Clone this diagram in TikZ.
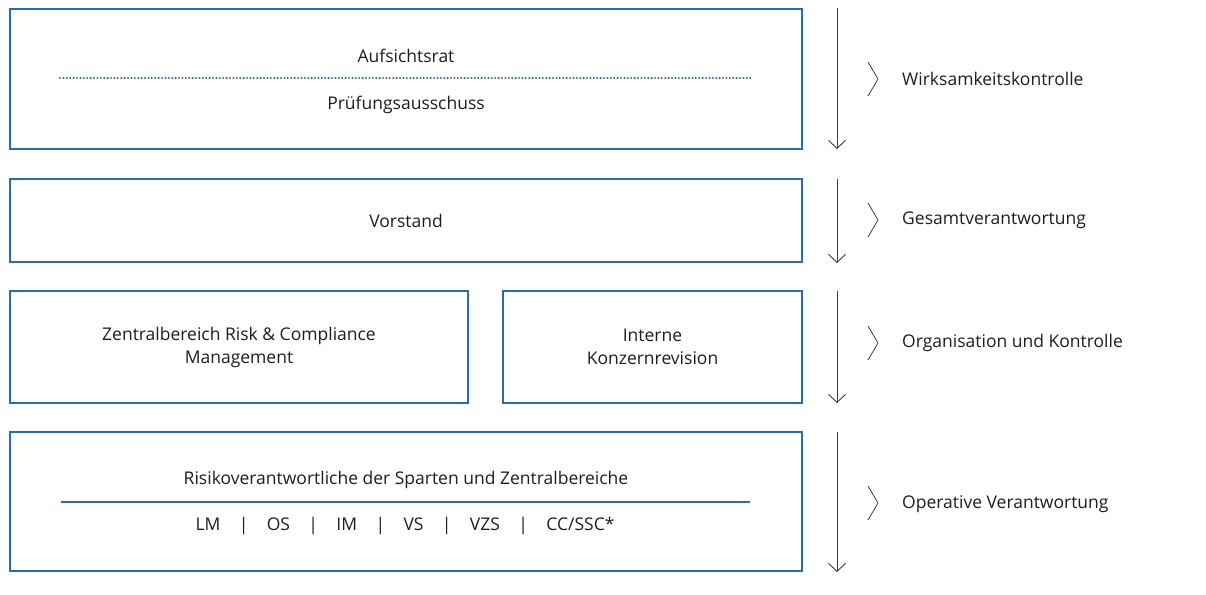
\documentclass[tikz,border=0pt]{standalone}
\usepackage{fontspec}
\setmainfont{Open Sans}
\usetikzlibrary{arrows.meta}
\definecolor{boxblue}{RGB}{43,108,168}
\definecolor{txt}{RGB}{30,30,30}
\definecolor{arr}{RGB}{60,60,60}
\tikzset{
  box/.style={draw=boxblue, line width=1.1pt, minimum height=#1, inner sep=0pt},
  lbl/.style={text=txt, font=\fontsize{17.5}{23}\selectfont, inner sep=0pt, align=center},
  side/.style={text=txt, font=\fontsize{17.5}{22}\selectfont, inner sep=0pt, anchor=west},
  flow/.style={draw=arr, line width=0.9pt, -{Straight Barb[length=8pt,width=17pt,line width=0.9pt]}},
  chev/.style={draw=arr, line width=0.8pt},
}
\begin{document}
\begin{tikzpicture}[x=1pt,y=-1pt]
\useasboundingbox (0,0) rectangle (1206,594);
% boxes
\node[box=140pt, minimum width=792pt] (b1) at (406,79) {};
\node[box=83pt, minimum width=792pt] (b2) at (406,220.5) {};
\node[box=112pt, minimum width=458pt] (b3a) at (239,347) {};
\node[box=112pt, minimum width=299pt] (b3b) at (652.5,347) {};
\node[box=139pt, minimum width=792pt] (b4) at (406,501.5) {};
% box texts
\node[lbl] (t1) at (406,56) {Aufsichtsrat};
\node[lbl] (t2) at (406,105) {Prüfungsausschuss};
\coordinate (d1) at (60,78);
\coordinate (d2) at (752,78);
\draw[boxblue, line width=2.3pt, line cap=round, dash pattern=on 0pt off 3.4pt] (d1) -- (d2);
\node[lbl] (t3) at (406,221) {Vorstand};
\node[lbl] (t4) at (239,347) {Zentralbereich Risk \& Compliance\\Management};
\node[lbl] (t5) at (652.5,346.5) {Interne\\Konzernrevision};
\node[lbl] (t6) at (406,480) {Risikoverantwortliche der Sparten und Zentralbereiche};
\coordinate (s1) at (61,502);
\coordinate (s2) at (750,502);
\draw[boxblue, line width=1.2pt] (s1) -- (s2);
\node[lbl] (t7) at (405,526) {LM\hspace{1.05em}|\hspace{1.05em}OS\hspace{1.05em}|\hspace{1.05em}IM\hspace{1.05em}|\hspace{1.05em}VS\hspace{1.05em}|\hspace{1.05em}VZS\hspace{1.05em}|\hspace{1.05em}CC/SSC*};
% arrows
\coordinate (a1s) at (837,8);   \coordinate (a1e) at (837,149);
\coordinate (a2s) at (837,179); \coordinate (a2e) at (837,263);
\coordinate (a3s) at (837,291); \coordinate (a3e) at (837,403);
\coordinate (a4s) at (837,432); \coordinate (a4e) at (837,572);
\draw[flow] (a1s) -- (a1e);
\draw[flow] (a2s) -- (a2e);
\draw[flow] (a3s) -- (a3e);
\draw[flow] (a4s) -- (a4e);
% chevrons
\foreach \n/\y in {1/79,2/220,3/343,4/503}{
  \coordinate (c\n a) at (868,\y-17);
  \coordinate (c\n b) at (878,\y);
  \coordinate (c\n c) at (868,\y+17);
  \draw[chev] (c\n a) -- (c\n b) -- (c\n c);
}
\node[side] (r1) at (902,79) {Wirksamkeitskontrolle};
\node[side] (r2) at (902,220) {Gesamtverantwortung};
\node[side] (r3) at (902,343) {Organisation und Kontrolle};
\node[side] (r4) at (902,504) {Operative Verantwortung};
\end{tikzpicture}
\end{document}
